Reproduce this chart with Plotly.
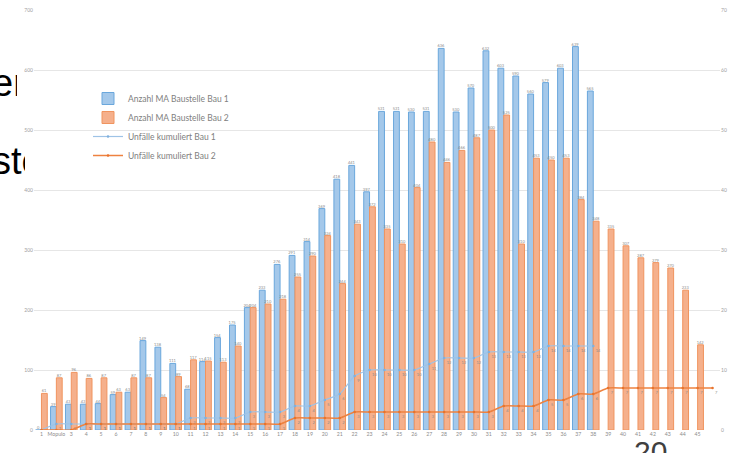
import plotly.graph_objects as go

W, H = 731, 453

weeks = list(range(1, 47))
tick_vals = list(range(1, 46))
tick_text = ["1", "Mopulo"] + [str(i) for i in range(3, 46)]

bau1_staff = [0, 39, 43, 43, 44, 59, 63, 149, 138, 111, 68, 114, 154, 175, 204,
              233, 276, 291, 314, 369, 418, 441, 397, 531, 531, 530, 531, 636,
              530, 570, 632, 603, 590, 560, 579, 603, 639, 565]
bau2_staff = [61, 87, 96, 86, 87, 63, 87, 87, 54, 89, 117, 115, 113, 140, 204,
              210, 218, 255, 290, 324, 244, 343, 372, 335, 310, 404, 480, 446,
              466, 487, 500, 525, 310, 453, 450, 453, 384, 348, 335, 307, 287,
              279, 270, 233, 142]
bau1_acc = [0, 1, 1, 1, 1, 1, 1, 1, 1, 1, 2, 2, 2, 2, 3, 3, 3, 4, 4, 5, 6, 9,
            10, 10, 10, 10, 11, 12, 12, 12, 13, 13, 13, 13, 14, 14, 14, 14]
bau2_acc = [0, 0, 0, 1, 1, 1, 1, 1, 1, 1, 1, 1, 1, 1, 1, 1, 1, 2, 2, 2, 2, 3,
            3, 3, 3, 3, 3, 3, 3, 3, 3, 4, 4, 4, 5, 5, 6, 6, 7, 7, 7, 7, 7, 7,
            7, 7]

names = ["Anzahl MA Baustelle Bau 1", "Anzahl MA Baustelle Bau 2",
         "Unfälle kumuliert Bau 1", "Unfälle kumuliert Bau 2"]

BLUE_FILL, BLUE_LINE = "#a4c8ea", "#6aa7dc"
ORANGE_FILL, ORANGE_LINE = "#f5b08c", "#f0945f"
LBL = dict(size=4, color="#8a8a8a", family="Lato")

fig = go.Figure()
fig.add_trace(go.Bar(x=weeks[:len(bau1_staff)], y=bau1_staff, name=names[0],
                     marker=dict(color=BLUE_FILL, line=dict(color=BLUE_LINE, width=1)),
                     text=bau1_staff, textposition="outside", textfont=LBL,
                     constraintext="none", cliponaxis=False, legendgroup="a"))
fig.add_trace(go.Bar(x=weeks[:len(bau2_staff)], y=bau2_staff, name=names[1],
                     marker=dict(color=ORANGE_FILL, line=dict(color=ORANGE_LINE, width=1)),
                     text=bau2_staff, textposition="outside", textfont=LBL,
                     constraintext="none", cliponaxis=False, legendgroup="b"))
fig.add_trace(go.Scatter(x=weeks[:len(bau1_acc)], y=bau1_acc, name=names[2], yaxis="y2",
                         mode="lines+markers+text", text=bau1_acc, textposition="bottom right",
                         textfont=LBL, line=dict(color="#9ec3e6", width=1.2, shape="spline", smoothing=0.6),
                         marker=dict(size=2.5, color="#7fb0dd"), legendgroup="c"))
fig.add_trace(go.Scatter(x=weeks[:len(bau2_acc)], y=bau2_acc, name=names[3], yaxis="y2",
                         mode="lines+markers+text", text=bau2_acc, textposition="bottom right",
                         textfont=LBL, line=dict(color="#ee8240", width=1.5, shape="spline", smoothing=0.6),
                         marker=dict(size=2.5, color="#e8732c"), legendgroup="d"))

# slide text partly hidden behind the chart (clipped subplots)
fig.add_trace(go.Scatter(x=[8.9], y=[86.5], mode="text", text=["er"], textposition="middle center",
                         textfont=dict(size=38, family="Liberation Sans", color="#000000"),
                         xaxis="x3", yaxis="y3", showlegend=False, hoverinfo="skip", cliponaxis=True))
fig.add_trace(go.Scatter(x=[17.3], y=[164.5], mode="text", text=["ste"], textposition="middle center",
                         textfont=dict(size=38, family="Liberation Sans", color="#000000"),
                         xaxis="x4", yaxis="y4", showlegend=False, hoverinfo="skip", cliponaxis=True))

tickfont = dict(size=5, color="#a0a0a0", family="Lato")
fig.update_layout(
    width=W, height=H, margin=dict(l=0, r=0, t=0, b=0),
    paper_bgcolor="white", plot_bgcolor="rgba(0,0,0,0)",
    barmode="group", bargap=0.22, bargroupgap=0.0,
    xaxis=dict(domain=[34 / W, 720 / W], range=[0.5, 46.5], tickvals=tick_vals, ticktext=tick_text,
               showgrid=False, zeroline=False, ticks="", tickfont=dict(size=5.2, color="#8c8c8c", family="Lato"),
               tickangle=0, automargin=False, anchor="y"),
    yaxis=dict(domain=[23 / H, 443 / H], range=[0, 700], dtick=100, showgrid=True, gridcolor="#e6e6e6",
               gridwidth=1, zeroline=False, ticks="", tickfont=tickfont, automargin=False, anchor="x"),
    yaxis2=dict(overlaying="y", side="right", range=[0, 70], dtick=10, showgrid=False, zeroline=False,
                ticks="", tickfont=tickfont, automargin=False, anchor="x"),
    xaxis3=dict(domain=[0, 17 / W], range=[0, 17], visible=False, anchor="y3"),
    yaxis3=dict(domain=[0, 1], range=[H, 0], visible=False, anchor="x3"),
    xaxis4=dict(domain=[0, 25 / W], range=[0, 25], visible=False, anchor="y4"),
    yaxis4=dict(domain=[0, 1], range=[H, 0], visible=False, anchor="x4"),
    legend=dict(x=88 / W, y=1 - 84 / H, xanchor="left", yanchor="top", bgcolor="rgba(0,0,0,0)",
                font=dict(size=8.5, color="#808080", family="Lato"), tracegroupgap=9, traceorder="normal"),
    showlegend=True,
    annotations=[dict(text="20", x=650 / W, y=1 - 433 / H, xref="paper", yref="paper",
                      xanchor="center", yanchor="top", showarrow=False,
                      font=dict(size=30, family="Liberation Sans", color="#404040"))],
)

fig.write_html("out.html")
